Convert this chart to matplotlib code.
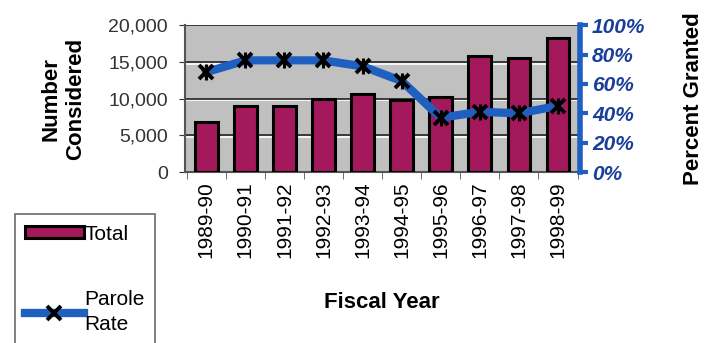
import matplotlib.pyplot as plt
import numpy as np
from matplotlib.ticker import FuncFormatter
from matplotlib.lines import Line2D

# 数据
years = ['1989-90', '1990-91', '1991-92', '1992-93', '1993-94',
         '1994-95', '1995-96', '1996-97', '1997-98', '1998-99']
total = [6800, 9000, 9000, 10000, 10600, 9800, 10200, 15800, 15500, 18300]
parole_rate = [68, 76, 76, 76, 72, 62, 37, 41, 40, 45]

plt.rcParams['font.family'] = ['Liberation Sans', 'DejaVu Sans']

fig = plt.figure(figsize=(7.05, 3.43), dpi=100)
ax = fig.add_axes([0.262, 0.4985, 0.560, 0.428])
ax.set_facecolor('#c0c0c0')

x = np.arange(len(years))
bars = ax.bar(x, total, width=0.58, color='#a3195b', edgecolor='black', linewidth=2.2,
              label='Total', zorder=3)
ax.set_ylim(0, 20000)
ax.set_xlim(-0.55, len(years) - 0.45)
ax.set_yticks([0, 5000, 10000, 15000, 20000])
ax.yaxis.set_major_formatter(FuncFormatter(lambda v, p: f'{int(v):,}'))
# 网格线（黑线下方加白线，仿立体效果）
ax.grid(axis='y', color='#222222', linewidth=1.2, zorder=1)
for v in [5000, 10000, 15000]:
    ax.axhline(v - 250, color='white', linewidth=1.2, zorder=1)
ax.set_xticks(x)
ax.set_xticks(np.arange(len(years) + 1) - 0.5, minor=True)
ax.set_xticklabels(years, rotation=90, fontsize=15)
ax.tick_params(axis='y', labelsize=14, colors='#333333', length=4, pad=8)
ax.tick_params(axis='x', which='major', length=0, pad=7)
ax.tick_params(axis='x', which='minor', length=5, color='#555555')
for s in ['top', 'right']:
    ax.spines[s].set_visible(False)
ax.spines['left'].set_color('#555555')
ax.spines['left'].set_linewidth(1.5)
ax.spines['bottom'].set_color('#555555')
ax.spines['bottom'].set_linewidth(1.5)
ax.set_ylabel('Number\nConsidered', fontsize=16, fontweight='bold', labelpad=16,
              linespacing=1.25)
ax.set_xlabel('Fiscal Year', fontsize=16, fontweight='bold', labelpad=24)

ax2 = ax.twinx()
ax2.plot(x, parole_rate, color='#1f5fbf', linewidth=6, marker='x',
         markersize=10, markeredgecolor='black', markeredgewidth=2.8, zorder=4)
ax2.plot(x, parole_rate, linestyle='none', marker='|',
         markersize=12, markeredgecolor='black', markeredgewidth=2.2, zorder=5)
ax2.set_ylim(0, 100)
ax2.set_yticks([0, 20, 40, 60, 80, 100])
ax2.yaxis.set_major_formatter(FuncFormatter(lambda v, p: f'{int(v)}%'))
for s in ['top', 'left', 'bottom']:
    ax2.spines[s].set_visible(False)
ax2.spines['right'].set_color('#1f5fbf')
ax2.spines['right'].set_linewidth(4)
ax2.tick_params(axis='y', colors='#1f5fbf', width=3, length=6, labelsize=15, pad=3)
for t in ax2.get_yticklabels():
    t.set_fontstyle('italic')
    t.set_fontweight('bold')
    t.set_color('#1a3f9a')
ax2.set_ylabel('Percent Granted', fontsize=16, fontweight='bold', labelpad=27)

line_handle = Line2D([], [], color='#1f5fbf', linewidth=6, marker='x', markersize=10,
                     markeredgecolor='black', markeredgewidth=2.8)
leg = fig.legend(handles=[bars, line_handle], labels=['Total', 'Parole\nRate'],
                 loc='upper left', bbox_to_anchor=(0.021, 0.375), fontsize=15,
                 frameon=True, fancybox=False, edgecolor='#444444',
                 labelspacing=2.2, handlelength=2.8, handletextpad=0.05,
                 borderpad=0.5, borderaxespad=0, handleheight=0.5)
leg.get_frame().set_linewidth(1.2)
for t in leg.get_texts():
    t.set_linespacing(1.45)

plt.savefig('out.png', dpi=100)
